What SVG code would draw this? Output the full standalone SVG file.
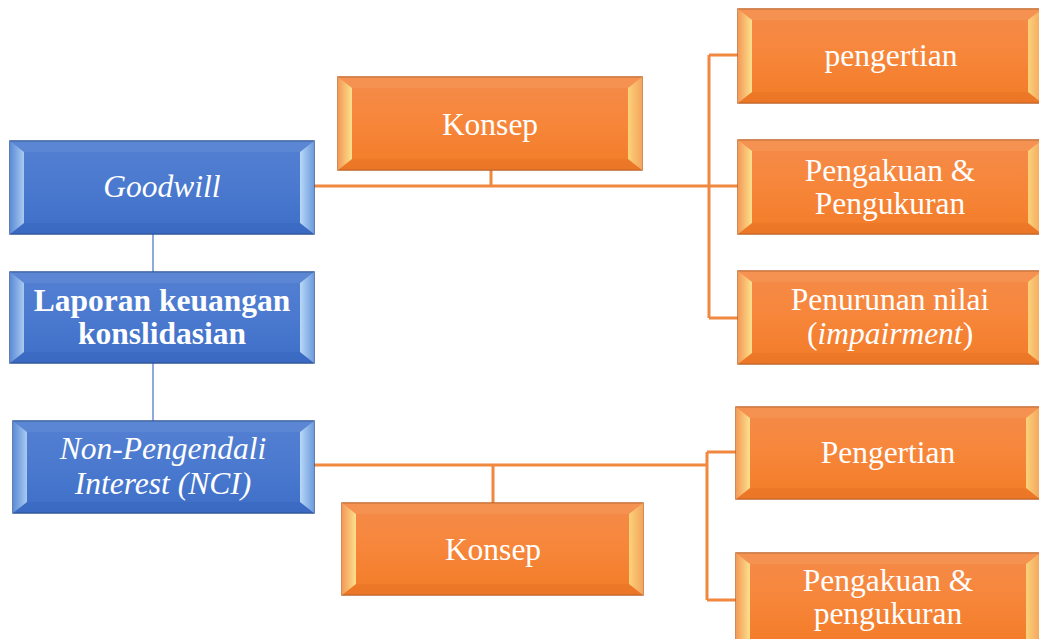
<svg xmlns="http://www.w3.org/2000/svg" width="1039" height="639" viewBox="0 0 1039 639">
<defs>
<linearGradient id="og" x1="0" y1="0" x2="0" y2="1">
<stop offset="0" stop-color="#F48B4A"/><stop offset="0.5" stop-color="#F7863A"/><stop offset="1" stop-color="#F27B27"/>
</linearGradient>
<linearGradient id="bg" x1="0" y1="0" x2="0" y2="1">
<stop offset="0" stop-color="#5480D1"/><stop offset="0.5" stop-color="#4A79CF"/><stop offset="1" stop-color="#3F6EC8"/>
</linearGradient>
<linearGradient id="oL" x1="0" y1="0" x2="1" y2="0">
<stop offset="0" stop-color="#F49A55"/><stop offset="1" stop-color="#FCE08E"/>
</linearGradient>
<linearGradient id="oR" x1="0" y1="0" x2="1" y2="0">
<stop offset="0" stop-color="#FBD27A"/><stop offset="1" stop-color="#F4A55C"/>
</linearGradient>
<linearGradient id="bL" x1="0" y1="0" x2="1" y2="0">
<stop offset="0" stop-color="#5C8BD6"/><stop offset="1" stop-color="#A9CBF2"/>
</linearGradient>
<linearGradient id="bR" x1="0" y1="0" x2="1" y2="0">
<stop offset="0" stop-color="#B8D8F6"/><stop offset="1" stop-color="#6D9BDD"/>
</linearGradient>
</defs>
<style>
.ob{fill:url(#og);stroke:#C0662A;stroke-width:1.5}
.bb{fill:url(#bg);stroke:#2F5597;stroke-width:1.5}
.otop{fill:#F7A065;opacity:0.35}
.obot{fill:#E06F22;opacity:0.35}
.btop{fill:#6E95DA;opacity:0.35}
.bbot{fill:#3562B8;opacity:0.35}
.oL{fill:url(#oL)}.oR{fill:url(#oR)}.bL{fill:url(#bL)}.bR{fill:url(#bR)}
.t{font-size:31.5px;fill:#FFFFFF;text-anchor:middle}
.it{font-style:italic}
.bd{font-weight:bold}
.oc{fill:none;stroke:#F0883F;stroke-width:3}
.bc{fill:none;stroke:#4472C4;stroke-width:1.2}
</style>
<g id="connectors">
<path class="bc" d="M153,234 V272 M153,363 V421"/>
<path class="oc" d="M314,186 H738 M491,170 V186 M709,55 V318 M709,55 H738 M709,318 H738"/>
<path class="oc" d="M314,465 H707 M493,465 V503 M707,452 V600 M707,452 H736 M707,600 H736"/>
</g>
<g id="goodwill">
<rect class="bb" x="10" y="141" width="304" height="93"/>
<polygon class="btop" points="10,141 314,141 300,152 24,152"/>
<polygon class="bbot" points="10,234 314,234 300,223 24,223"/>
<polygon class="bL" points="10,141 24,152 24,223 10,234"/>
<polygon class="bR" points="314,141 300,152 300,223 314,234"/>
<text class="t it" font-family="Liberation Serif" x="162" y="197">Goodwill</text>
</g>
<g id="laporan">
<rect class="bb" x="10" y="272" width="304" height="91"/>
<polygon class="btop" points="10,272 314,272 300,283 24,283"/>
<polygon class="bbot" points="10,363 314,363 300,352 24,352"/>
<polygon class="bL" points="10,272 24,283 24,352 10,363"/>
<polygon class="bR" points="314,272 300,283 300,352 314,363"/>
<text class="t bd" font-family="Liberation Serif" x="162" y="311">Laporan keuangan</text>
<text class="t bd" font-family="Liberation Serif" x="162" y="344">konslidasian</text>
</g>
<g id="nci">
<rect class="bb" x="13" y="421" width="301" height="92"/>
<polygon class="btop" points="13,421 314,421 300,432 27,432"/>
<polygon class="bbot" points="13,513 314,513 300,502 27,502"/>
<polygon class="bL" points="13,421 27,432 27,502 13,513"/>
<polygon class="bR" points="314,421 300,432 300,502 314,513"/>
<text class="t it" font-family="Liberation Serif" x="163" y="459">Non-Pengendali</text>
<text class="t it" font-family="Liberation Serif" x="163" y="494">Interest (NCI)</text>
</g>
<g id="konsep1">
<rect class="ob" x="338" y="77" width="304" height="93"/>
<polygon class="otop" points="338,77 642,77 628,88 352,88"/>
<polygon class="obot" points="338,170 642,170 628,159 352,159"/>
<polygon class="oL" points="338,77 352,88 352,159 338,170"/>
<polygon class="oR" points="642,77 628,88 628,159 642,170"/>
<text class="t" font-family="Liberation Serif" x="490" y="135">Konsep</text>
</g>
<g id="konsep2">
<rect class="ob" x="342" y="503" width="301" height="92"/>
<polygon class="otop" points="342,503 643,503 629,514 356,514"/>
<polygon class="obot" points="342,595 643,595 629,584 356,584"/>
<polygon class="oL" points="342,503 356,514 356,584 342,595"/>
<polygon class="oR" points="643,503 629,514 629,584 643,595"/>
<text class="t" font-family="Liberation Serif" x="493" y="560">Konsep</text>
</g>
<g id="pengertian1">
<rect class="ob" x="738" y="9" width="304" height="94"/>
<polygon class="otop" points="738,9 1042,9 1028,20 752,20"/>
<polygon class="obot" points="738,103 1042,103 1028,92 752,92"/>
<polygon class="oL" points="738,9 752,20 752,92 738,103"/>
<polygon class="oR" points="1042,9 1028,20 1028,92 1042,103"/>
<text class="t" font-family="Liberation Serif" x="891" y="66">pengertian</text>
</g>
<g id="pengakuan1">
<rect class="ob" x="738" y="140" width="304" height="94"/>
<polygon class="otop" points="738,140 1042,140 1028,151 752,151"/>
<polygon class="obot" points="738,234 1042,234 1028,223 752,223"/>
<polygon class="oL" points="738,140 752,151 752,223 738,234"/>
<polygon class="oR" points="1042,140 1028,151 1028,223 1042,234"/>
<text class="t" font-family="Liberation Serif" x="890" y="181">Pengakuan &amp;</text>
<text class="t" font-family="Liberation Serif" x="890" y="214">Pengukuran</text>
</g>
<g id="penurunan">
<rect class="ob" x="738" y="271" width="304" height="93"/>
<polygon class="otop" points="738,271 1042,271 1028,282 752,282"/>
<polygon class="obot" points="738,364 1042,364 1028,353 752,353"/>
<polygon class="oL" points="738,271 752,282 752,353 738,364"/>
<polygon class="oR" points="1042,271 1028,282 1028,353 1042,364"/>
<text class="t" font-family="Liberation Serif" x="890" y="310">Penurunan nilai</text>
<text class="t" font-family="Liberation Serif" x="890" y="344">(<tspan class="it">impairment</tspan>)</text>
</g>
<g id="pengertian2">
<rect class="ob" x="736" y="407" width="304" height="92"/>
<polygon class="otop" points="736,407 1040,407 1026,418 750,418"/>
<polygon class="obot" points="736,499 1040,499 1026,488 750,488"/>
<polygon class="oL" points="736,407 750,418 750,488 736,499"/>
<polygon class="oR" points="1040,407 1026,418 1026,488 1040,499"/>
<text class="t" font-family="Liberation Serif" x="888" y="463">Pengertian</text>
</g>
<g id="pengakuan2">
<rect class="ob" x="736" y="553" width="304" height="93"/>
<polygon class="otop" points="736,553 1040,553 1026,564 750,564"/>
<polygon class="oL" points="736,553 750,564 750,646 736,646"/>
<polygon class="oR" points="1040,553 1026,564 1026,646 1040,646"/>
<text class="t" font-family="Liberation Serif" x="888" y="591">Pengakuan &amp;</text>
<text class="t" font-family="Liberation Serif" x="888" y="624">pengukuran</text>
</g>
</svg>
